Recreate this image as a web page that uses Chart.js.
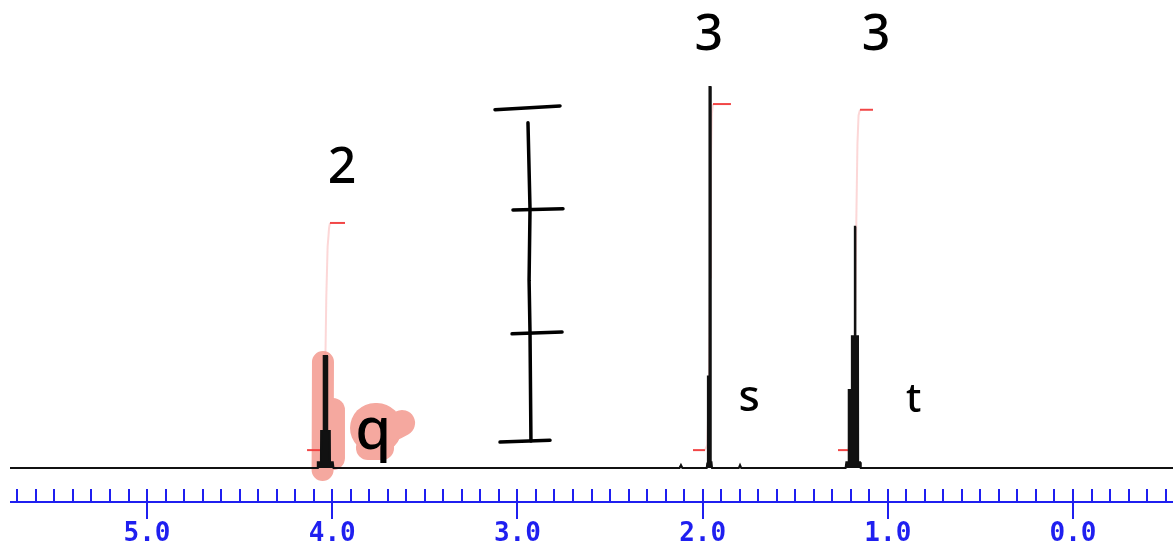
<!DOCTYPE html>
<html>
<head>
<meta charset="utf-8">
<script src="https://cdn.jsdelivr.net/npm/chart.js@4/dist/chart.umd.min.js"></script>
<style>
  html, body { margin: 0; padding: 0; background: #fff; overflow: hidden; }
</style>
</head>
<body>
<canvas id="nmr" width="1173" height="547"></canvas>
<script>
// Spectrum trace: chemical shift (ppm) and intensity (tallest peak = 100).
const specPpm = [5.74, 4.082, 4.078, 4.061, 4.060, 4.047, 4.046, 4.028, 4.027, 4.013, 4.012, 3.997, 3.993,
                 2.125, 2.117, 2.109, 1.978, 1.975, 1.972, 1.971, 1.964, 1.963, 1.957, 1.956, 1.952, 1.949,
                 1.805, 1.798, 1.791,
                 1.228, 1.224, 1.212, 1.211, 1.195, 1.194, 1.179, 1.178, 1.176, 1.175, 1.161, 1.160, 1.150, 1.146,
                 -0.54];
const specInt = [0, 0, 1.5, 1.5, 9.7, 9.7, 29.4, 29.4, 9.7, 9.7, 1.5, 1.5, 0,
                 0, 0.8, 0, 0, 1.2, 1.2, 24, 24, 100, 100, 1.5, 1.5, 0,
                 0, 0.8, 0,
                 0, 1.5, 1.5, 20.5, 20.5, 34.6, 34.6, 63.3, 63.3, 34.6, 34.6, 1.5, 1.5, 0,
                 0];

// Integral curves (red), one per multiplet.
const intQPpm = [4.136, 4.055, 4.045, 4.038, 4.032, 4.025, 4.017, 4.012, 3.931];
const intQInt = [4.7, 4.7, 7, 25, 45, 58, 63, 64.3, 64.3];
const intSPpm = [2.052, 1.987, 1.975, 1.966, 1.960, 1.955, 1.950, 1.944, 1.847];
const intSInt = [4.7, 4.7, 6, 20, 50, 80, 93, 95.5, 95.5];
const intTPpm = [1.269, 1.215, 1.200, 1.185, 1.176, 1.170, 1.164, 1.158, 1.150, 1.080];
const intTInt = [4.7, 4.7, 7, 15, 40, 65, 85, 92.5, 94, 94];

// Axis ticks.
const tickValues = [5, 4, 3, 2, 1, 0];
const tickLabels = ['5.0', '4.0', '3.0', '2.0', '1.0', '0.0'];

// Handwritten notes.
const noteText = ['2', '3', '3', 's', 't', 'q'];
const notePpm = [3.947, 1.966, 1.063, 1.749, 0.860, 3.778];
const noteInt = [78.5, 113.4, 113.4, 18.2, 17.8, 9.4];
const noteSize = [50, 50, 50, 44, 40, 58];

// Hand-drawn ruler, one stroke per list.
const rulerPpm = [[3.121, 2.770], [2.943, 2.932, 2.937, 2.932, 2.927], [3.024, 2.754], [3.029, 2.759], [3.094, 2.824]];
const rulerInt = [[94.0, 95.0], [90.6, 68.0, 49.3, 35.4, 7.1], [67.7, 68.0], [35.2, 35.7], [6.8, 7.3]];

// Highlighter marks round the quartet and its label.
const markPpm = [[4.050, 4.052], [3.996, 3.996], [3.769, 3.758], [3.807, 3.731], [3.661, 3.623]];
const markInt = [[27.8, -0.5], [15.2, 2.6], [10.5, 10.5], [5.25, 5.25], [10.8, 11.8]];
const markWidth = [22, 24, 50, 24, 26];

const BLUE = '#1f1ff0';
const RED = 'rgba(240, 60, 60, 0.95)';
const PINK = 'rgba(245, 140, 140, 0.35)';

function toPoints(xs, ys) {
    return xs.map(function(x, i) { return { x: x, y: ys[i] }; });
}

function integralSet(xs, ys) {
    return {
        data: toPoints(xs, ys),
        borderWidth: 2,
        pointRadius: 0,
        fill: false,
        segment: {
            borderColor: function(ctx) {
                return Math.abs(ctx.p0.parsed.y - ctx.p1.parsed.y) < 0.5 ? RED : PINK;
            }
        }
    };
}

// Strokes drawn in data space: highlighter before the trace, ruler and notes after.
function strokePath(ctx, xs, ys, sx, sy) {
    ctx.beginPath();
    xs.forEach(function(x, i) {
        const px = sx.getPixelForValue(x), py = sy.getPixelForValue(ys[i]);
        if (i === 0) ctx.moveTo(px, py); else ctx.lineTo(px, py);
    });
    ctx.stroke();
}

const handPlugin = {
    id: 'hand',
    beforeDatasetsDraw: function(chart) {
        const ctx = chart.ctx, sx = chart.scales.x, sy = chart.scales.y;
        ctx.save();
        ctx.strokeStyle = '#f5a89f';
        ctx.lineCap = 'round';
        ctx.lineJoin = 'round';
        markPpm.forEach(function(xs, i) {
            ctx.lineWidth = markWidth[i];
            strokePath(ctx, xs, markInt[i], sx, sy);
        });
        ctx.restore();
    },
    afterDatasetsDraw: function(chart) {
        const ctx = chart.ctx, sx = chart.scales.x, sy = chart.scales.y;
        ctx.save();
        ctx.strokeStyle = '#000';
        ctx.lineWidth = 3.5;
        ctx.lineCap = 'round';
        rulerPpm.forEach(function(xs, i) {
            strokePath(ctx, xs, rulerInt[i], sx, sy);
        });
        ctx.fillStyle = '#000';
        ctx.textAlign = 'center';
        ctx.textBaseline = 'middle';
        noteText.forEach(function(t, i) {
            ctx.font = '500 ' + noteSize[i] + 'px "Noto Sans"';
            ctx.fillText(t, sx.getPixelForValue(notePpm[i]), sy.getPixelForValue(noteInt[i]));
        });
        ctx.restore();
    }
};

// Blue ppm ruler under the trace: long ticks every 1 ppm, short every 0.1 ppm.
const axisPlugin = {
    id: 'ppmAxis',
    afterDraw: function(chart) {
        const ctx = chart.ctx, sx = chart.scales.x, sy = chart.scales.y;
        const area = chart.chartArea;
        const yLine = Math.round(sy.getPixelForValue(-8.9));
        const yTop = sy.getPixelForValue(-5.5);
        const yLong = sy.getPixelForValue(-13.4);
        ctx.save();
        ctx.strokeStyle = BLUE;
        ctx.lineWidth = 2;
        ctx.beginPath();
        ctx.moveTo(area.left, yLine);
        ctx.lineTo(area.right, yLine);
        for (let k = -5; k <= 57; k++) {
            const px = Math.round(sx.getPixelForValue(k / 10));
            ctx.moveTo(px, yTop);
            ctx.lineTo(px, k % 10 === 0 ? yLong : yLine);
        }
        ctx.stroke();
        ctx.restore();
    }
};

new Chart(document.getElementById('nmr'), {
    type: 'line',
    data: {
        datasets: [
            {
                data: toPoints(specPpm, specInt),
                borderColor: '#111',
                backgroundColor: '#111',
                borderWidth: 2,
                pointRadius: 0,
                fill: 'origin'
            },
            integralSet(intQPpm, intQInt),
            integralSet(intSPpm, intSInt),
            integralSet(intTPpm, intTInt)
        ]
    },
    options: {
        responsive: false,
        devicePixelRatio: 1,
        animation: false,
        layout: { padding: { left: 10, right: 0, top: 0, bottom: 0 } },
        plugins: { legend: { display: false }, tooltip: { enabled: false } },
        scales: {
            x: {
                type: 'linear',
                reverse: true,
                min: -0.54,
                max: 5.74,
                afterBuildTicks: function(scale) {
                    scale.ticks = tickValues.map(function(v) { return { value: v }; });
                },
                grid: { display: false, drawTicks: false },
                border: { display: false },
                ticks: {
                    color: BLUE,
                    padding: 0,
                    maxRotation: 0,
                    autoSkip: false,
                    font: { family: '"DejaVu Sans Mono"', size: 26, weight: 'bold', lineHeight: 1.0 },
                    callback: function(value) {
                        const i = tickValues.indexOf(value);
                        return i >= 0 ? tickLabels[i] : '';
                    }
                }
            },
            y: {
                display: false,
                min: -13.9,
                max: 122.8
            }
        }
    },
    plugins: [handPlugin, axisPlugin]
});
</script>
</body>
</html>
